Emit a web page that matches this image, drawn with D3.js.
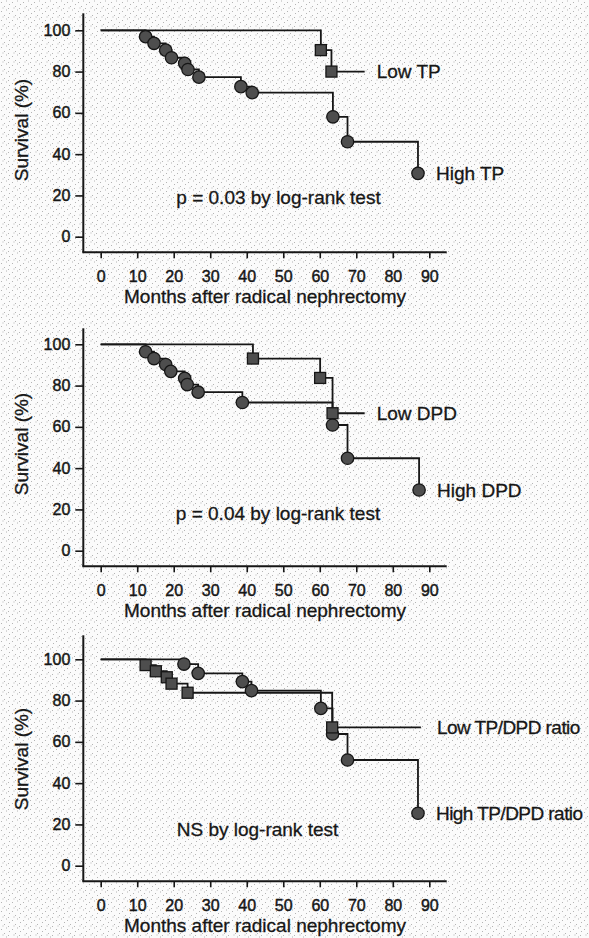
<!DOCTYPE html>
<html>
<head>
<meta charset="utf-8">
<script src="https://cdn.jsdelivr.net/npm/d3@7"></script>
<style>
  body { margin: 0; background: #fff; }
  svg { display: block; font-family: "Liberation Sans", Arial, sans-serif; }
</style>
</head>
<body>
<svg id="chart" width="589" height="938"></svg>
<script>
var xTicks = [0, 10, 20, 30, 40, 50, 60, 70, 80, 90];
var yTicks = [0, 20, 40, 60, 80, 100];

// panel 1 - TP
var lowTPMonths = [60.3, 63.2];
var lowTPSurv = [90.4, 80.0];
var lowTPEnd = 72.3;
var highTPMonths = [12.3, 14.6, 17.8, 19.4, 23.0, 23.9, 26.9, 38.4, 41.5, 63.6, 67.6, 86.9];
var highTPSurv = [96.9, 93.7, 90.4, 86.7, 84.0, 81.0, 77.3, 72.7, 69.8, 58.1, 46.0, 30.7];

// panel 2 - DPD
var lowDPDMonths = [41.7, 60.1, 63.5];
var lowDPDSurv = [93.1, 83.7, 66.6];
var lowDPDEnd = 72.3;
var highDPDMonths = [12.3, 14.6, 17.8, 19.2, 23.0, 23.7, 26.7, 38.8, 63.5, 67.6, 87.2];
var highDPDSurv = [96.4, 93.1, 90.2, 86.9, 83.5, 80.5, 76.8, 71.8, 60.9, 44.8, 29.4];

// panel 3 - TP/DPD ratio
var lowRatioMonths = [12.3, 15.1, 18.1, 19.4, 23.8, 63.4];
var lowRatioSurv = [97.2, 94.2, 91.3, 88.2, 83.8, 67.0];
var lowRatioEnd = 87.7;
var highRatioMonths = [22.8, 26.7, 38.8, 41.3, 60.3, 63.5, 67.6, 86.9];
var highRatioSurv = [97.7, 93.2, 89.2, 84.8, 76.2, 63.8, 51.2, 25.4];

var seriesLabels = [["Low TP", "High TP"], ["Low DPD", "High DPD"], ["Low TP/DPD ratio", "High TP/DPD ratio"]];
var notes = ["p = 0.03 by log-rank test", "p = 0.04 by log-rank test", "NS by log-rank test"];

var panels = [
  { top: 30.3, axisTop: 17, lowGap: 12, noteX: 278.5, noteVal: 15.8, squeeze: 0,
    low: { m: lowTPMonths, s: lowTPSurv, end: lowTPEnd },
    high: { m: highTPMonths, s: highTPSurv, end: 86.9 } },
  { top: 344.3, axisTop: 16, lowGap: 12, noteX: 278, noteVal: 14.9, squeeze: 0,
    low: { m: lowDPDMonths, s: lowDPDSurv, end: lowDPDEnd },
    high: { m: highDPDMonths, s: highDPDSurv, end: 87.2 } },
  { top: 659.3, axisTop: 24, lowGap: 16, noteX: 257.5, noteVal: 14.4, squeeze: -0.55,
    low: { m: lowRatioMonths, s: lowRatioSurv, end: lowRatioEnd },
    high: { m: highRatioMonths, s: highRatioSurv, end: 86.9 } }
];

var svg = d3.select("#chart");
var ink = "#161616";

// speckled paper background
var pat = svg.append("defs").append("pattern")
  .attr("id", "speck").attr("width", 11).attr("height", 9)
  .attr("patternUnits", "userSpaceOnUse");
pat.append("rect").attr("width", 11).attr("height", 9).attr("fill", "#fbfbfb");
[[1, 2], [6, 0.5], [4, 6], [9, 4], [2.5, 7.5], [8, 8]].forEach(function(p) {
  pat.append("rect").attr("x", p[0]).attr("y", p[1]).attr("width", 1).attr("height", 1).attr("fill", "#b4b4b4");
});
svg.append("rect").attr("width", 589).attr("height", 938).attr("fill", "url(#speck)");

var x = d3.scaleLinear().domain([0, 90]).range([100.7, 429.3]);

function stepPoints(d) {
  var pts = [[0, 100]];
  for (var i = 0; i < d.m.length; i++) pts.push([d.m[i], d.s[i]]);
  pts.push([d.end, d.s[d.s.length - 1]]);
  return pts;
}

function label(sel, size) {
  return sel.attr("font-size", size).attr("fill", ink)
    .attr("stroke", ink).attr("stroke-width", 0.3);
}

panels.forEach(function(p, k) {
  var y = d3.scaleLinear().domain([0, 100]).range([p.top + 206.4, p.top]);
  var g = svg.append("g");
  var axisY = y(0) + 15.6;

  // axis lines
  g.append("line").attr("x1", 83.3).attr("x2", 83.3)
    .attr("y1", p.top - p.axisTop).attr("y2", axisY)
    .attr("stroke", ink).attr("stroke-width", 2);
  g.append("line").attr("x1", 82.3).attr("x2", 446.7)
    .attr("y1", axisY).attr("y2", axisY)
    .attr("stroke", ink).attr("stroke-width", 2);

  var ya = g.append("g").attr("transform", "translate(83.3,0)")
    .call(d3.axisLeft(y).tickValues(yTicks).tickSize(8).tickPadding(5));
  var xa = g.append("g").attr("transform", "translate(0," + axisY + ")")
    .call(d3.axisBottom(x).tickValues(xTicks).tickSize(6).tickPadding(12));
  [ya, xa].forEach(function(a) {
    a.select(".domain").remove();
    a.selectAll("line").attr("stroke", ink).attr("stroke-width", 1.6);
    a.selectAll("text").attr("fill", ink).attr("font-size", 16)
      .attr("font-family", "Liberation Sans, Arial, sans-serif")
      .attr("stroke", ink).attr("stroke-width", 0.45);
  });

  label(g.append("text")
    .attr("transform", "translate(28," + (y(50) - 3.5) + ") rotate(-90)")
    .attr("text-anchor", "middle"), 19)
    .text("Survival (%)");
  label(g.append("text")
    .attr("x", 265).attr("y", axisY + 51)
    .attr("text-anchor", "middle"), 19)
    .text("Months after radical nephrectomy");
  label(g.append("text")
    .attr("x", p.noteX).attr("y", y(p.noteVal))
    .attr("text-anchor", "middle"), 19)
    .text(notes[k]);

  var line = d3.line().x(function(d) { return x(d[0]); }).y(function(d) { return y(d[1]); })
    .curve(d3.curveStepAfter);
  [p.low, p.high].forEach(function(d) {
    g.append("path").attr("d", line(stepPoints(d)))
      .attr("fill", "none").attr("stroke", ink).attr("stroke-width", 1.8);
  });

  // high group: circles, low group: squares
  g.selectAll(".hi").data(d3.range(p.high.m.length)).enter().append("circle")
    .attr("cx", function(i) { return x(p.high.m[i]); })
    .attr("cy", function(i) { return y(p.high.s[i]); })
    .attr("r", 6.2).attr("fill", "#4e4e4e").attr("stroke", ink).attr("stroke-width", 1.3);
  g.selectAll(".lo").data(d3.range(p.low.m.length)).enter().append("rect")
    .attr("x", function(i) { return x(p.low.m[i]) - 5.5; })
    .attr("y", function(i) { return y(p.low.s[i]) - 5.5; })
    .attr("width", 11).attr("height", 11)
    .attr("fill", "#4e4e4e").attr("stroke", ink).attr("stroke-width", 1.3);

  var lastLow = p.low.s[p.low.s.length - 1];
  var lastHigh = p.high.s[p.high.s.length - 1];
  label(g.append("text").attr("x", x(p.low.end) + p.lowGap).attr("y", y(lastLow))
    .attr("dy", "0.36em").attr("letter-spacing", p.squeeze), 19)
    .text(seriesLabels[k][0]);
  label(g.append("text").attr("x", x(p.high.end) + 18).attr("y", y(lastHigh))
    .attr("dy", "0.36em").attr("letter-spacing", p.squeeze), 19)
    .text(seriesLabels[k][1]);
});
</script>
</body>
</html>
